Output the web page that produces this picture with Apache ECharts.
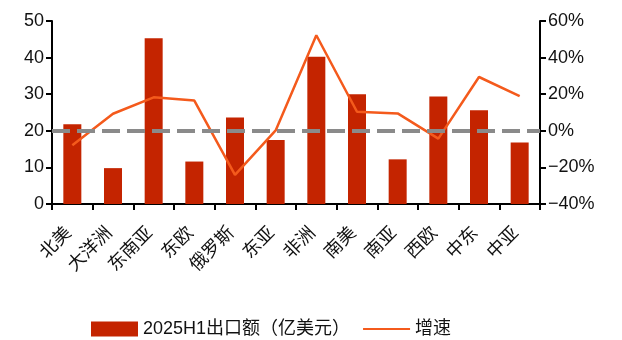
<!DOCTYPE html>
<html>
<head>
<meta charset="utf-8">
<script src="https://cdn.jsdelivr.net/npm/echarts@6/dist/echarts.min.js"></script>
<style>
  html, body { margin: 0; padding: 0; background: #fff; }
  #chart { width: 622px; height: 340px; }
</style>
</head>
<body>
<div id="chart"></div>
<script>
const regions = ["北美", "大洋洲", "东南亚", "东欧", "俄罗斯", "东亚", "非洲", "南美", "南亚", "西欧", "中东", "中亚"];
const exportValues = [21.8, 9.8, 45.3, 11.6, 23.6, 17.5, 40.2, 30.0, 12.2, 29.4, 25.6, 16.8];
const growthRates = [-7.9, 9.3, 18.3, 16.5, -24.1, 0.2, 52.2, 10.4, 9.5, -4.3, 29.4, 18.9];

const BAR_NAME = "2025H1出口额（亿美元）";
const LINE_NAME = "增速";
const FONT = "'Liberation Sans', 'Noto Sans CJK SC', sans-serif";
const CJK = "'Noto Sans CJK SC', sans-serif";

const chart = echarts.init(document.getElementById("chart"), null, { renderer: "canvas" });

const axisCommon = {
  axisLine: { show: true, lineStyle: { color: "#000", width: 2 } },
  axisTick: { show: true, length: 6, lineStyle: { color: "#000", width: 2 } },
  splitLine: { show: false }
};

chart.setOption({
  animation: false,
  grid: { left: 52, right: 82, top: 21, bottom: 136 },
  legend: {
    top: 315,
    left: 86,
    itemGap: 12,
    itemWidth: 47,
    itemHeight: 15,
    textStyle: { fontFamily: FONT, fontSize: 18, color: "#111" },
    data: [
      { name: BAR_NAME, icon: "rect" },
      { name: LINE_NAME, itemStyle: { opacity: 0 } }
    ]
  },
  xAxis: {
    type: "category",
    data: regions,
    ...axisCommon,
    axisLabel: {
      rotate: 45,
      interval: 0,
      fontFamily: CJK,
      fontSize: 18,
      color: "#111",
      margin: 20,
      padding: [0, 7, 0, 0]
    }
  },
  yAxis: [
    {
      type: "value",
      min: 0,
      max: 50,
      interval: 10,
      ...axisCommon,
      axisLabel: { fontFamily: FONT, fontSize: 18, color: "#111", margin: 8 }
    },
    {
      type: "value",
      min: -40,
      max: 60,
      interval: 20,
      ...axisCommon,
      axisLabel: {
        fontFamily: FONT,
        fontSize: 18,
        color: "#111",
        margin: 8,
        formatter: (v) => (v < 0 ? "\u2212" + Math.abs(v) : v) + "%"
      }
    }
  ],
  series: [
    {
      name: BAR_NAME,
      type: "bar",
      data: exportValues,
      barWidth: 18,
      itemStyle: { color: "#C42400" }
    },
    {
      name: LINE_NAME,
      type: "line",
      yAxisIndex: 1,
      data: growthRates,
      symbol: "none",
      lineStyle: { color: "#F45A1C", width: 2.5 },
      itemStyle: { color: "#F45A1C" },
      markLine: {
        silent: true,
        symbol: "none",
        label: { show: false },
        lineStyle: { color: "#8a8a8a", width: 4, type: [18, 7] },
        data: [{ yAxis: 0 }]
      }
    }
  ]
});
</script>
</body>
</html>
